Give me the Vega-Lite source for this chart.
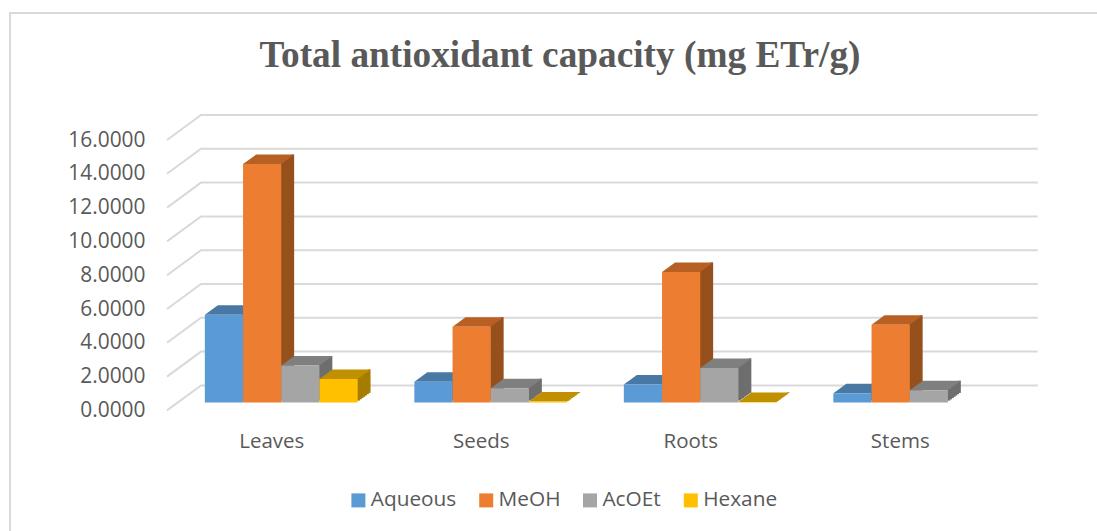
{"$schema":"https://vega.github.io/schema/vega-lite/v6.json","width":838,"height":270.4,"autosize":"none","padding":{"left":167,"top":140,"right":92,"bottom":120.6},"background":"white","config":{"view":{"stroke":null},"font":"Open Sans","axis":{"labelOverlap":false}},"title":{"text":"Total antioxidant capacity (mg ETr/g)","font":"Liberation Serif","fontSize":37.3,"fontWeight":"bold","color":"#595959","anchor":"middle","frame":"group","dx":-26,"offset":-63},"datasets":{"bars":[{"part":"Leaves","series":"Aqueous","v":5.18},{"part":"Leaves","series":"MeOH","v":14.1},{"part":"Leaves","series":"AcOEt","v":2.18},{"part":"Leaves","series":"Hexane","v":1.39},{"part":"Seeds","series":"Aqueous","v":1.22},{"part":"Seeds","series":"MeOH","v":4.48},{"part":"Seeds","series":"AcOEt","v":0.84},{"part":"Seeds","series":"Hexane","v":0.05},{"part":"Roots","series":"Aqueous","v":1.06},{"part":"Roots","series":"MeOH","v":7.72},{"part":"Roots","series":"AcOEt","v":2.04},{"part":"Roots","series":"Hexane","v":0.03},{"part":"Stems","series":"Aqueous","v":0.54},{"part":"Stems","series":"MeOH","v":4.59},{"part":"Stems","series":"AcOEt","v":0.72}],"grid":[{"g":0,"d":0,"h":0},{"g":0,"d":0.0406,"h":1.48},{"g":0,"d":1.039,"h":1.48},{"g":2,"d":0,"h":2},{"g":2,"d":0.0406,"h":3.48},{"g":2,"d":1.039,"h":3.48},{"g":4,"d":0,"h":4},{"g":4,"d":0.0406,"h":5.48},{"g":4,"d":1.039,"h":5.48},{"g":6,"d":0,"h":6},{"g":6,"d":0.0406,"h":7.48},{"g":6,"d":1.039,"h":7.48},{"g":8,"d":0,"h":8},{"g":8,"d":0.0406,"h":9.48},{"g":8,"d":1.039,"h":9.48},{"g":10,"d":0,"h":10},{"g":10,"d":0.0406,"h":11.48},{"g":10,"d":1.039,"h":11.48},{"g":12,"d":0,"h":12},{"g":12,"d":0.0406,"h":13.48},{"g":12,"d":1.039,"h":13.48},{"g":14,"d":0,"h":14},{"g":14,"d":0.0406,"h":15.48},{"g":14,"d":1.039,"h":15.48},{"g":16,"d":0,"h":16},{"g":16,"d":0.0406,"h":17.48},{"g":16,"d":1.039,"h":17.48}]},"resolve":{"scale":{"x":"independent"},"axis":{"x":"independent"}},"layer":[{"data":{"values":[{}]},"mark":{"type":"rect","fill":null,"stroke":"#D9D9D9","strokeWidth":2,"clip":false},"encoding":{"x":{"value":-157},"x2":{"value":1000},"y":{"value":-127},"y2":{"value":500}}},{"data":{"name":"grid"},"mark":{"type":"line","stroke":"#D9D9D9","strokeWidth":2,"interpolate":"linear","clip":false},"encoding":{"x":{"field":"d","type":"quantitative","scale":{"domain":[0,1],"nice":false,"zero":false},"axis":null},"y":{"field":"h","type":"quantitative","scale":{"domain":[0,16],"nice":false},"axis":{"title":null,"domain":false,"ticks":false,"grid":false,"values":[0,2,4,6,8,10,12,14,16],"format":".4f","labelFont":"Open Sans","labelFontSize":20.9,"labelColor":"#595959","labelPadding":22,"labelOverlap":false,"labelSeparation":0}},"detail":{"field":"g"}}},{"data":{"name":"bars"},"encoding":{"x":{"field":"part","type":"nominal","sort":["Leaves","Seeds","Roots","Stems"],"scale":{"paddingInner":0,"paddingOuter":0},"axis":{"title":null,"domain":false,"ticks":false,"labelAngle":0,"labelFont":"Open Sans","labelFontSize":20.5,"labelColor":"#595959","labelPadding":21}},"y":{"field":"v","type":"quantitative","stack":null,"scale":{"domain":[0,16],"nice":false},"axis":{"title":null,"domain":false,"ticks":false,"grid":false,"values":[0,2,4,6,8,10,12,14,16],"format":".4f","labelFont":"Open Sans","labelFontSize":20.9,"labelColor":"#595959","labelPadding":22,"labelOverlap":false,"labelSeparation":0}}},"resolve":{"scale":{"fill":"independent","xOffset":"independent"}},"layer":[{"encoding":{"y2":{"datum":0},"fill":{"field":"series","type":"nominal","legend":null,"scale":{"domain":["Aqueous","MeOH","AcOEt","Hexane"],"range":["#3F6A94","#96501C","#6E6E6E","#A67D00"]}}},"resolve":{"scale":{"xOffset":"independent"}},"layer":[{"mark":{"type":"bar","width":3,"yOffset":-9.83,"y2Offset":-9.83},"encoding":{"xOffset":{"field":"series","type":"nominal","scale":{"domain":["Aqueous","MeOH","AcOEt","Hexane"],"paddingInner":0,"paddingOuter":0.742,"range":[29.5,239]}}}},{"mark":{"type":"bar","width":3,"yOffset":-11.1,"y2Offset":-11.1},"encoding":{"xOffset":{"field":"series","type":"nominal","scale":{"domain":["Aqueous","MeOH","AcOEt","Hexane"],"paddingInner":0,"paddingOuter":0.742,"range":[31.25,240.75]}}}},{"mark":{"type":"bar","width":3,"yOffset":-12.38,"y2Offset":-12.38},"encoding":{"xOffset":{"field":"series","type":"nominal","scale":{"domain":["Aqueous","MeOH","AcOEt","Hexane"],"paddingInner":0,"paddingOuter":0.742,"range":[33,242.5]}}}},{"mark":{"type":"bar","width":3,"yOffset":-13.66,"y2Offset":-13.66},"encoding":{"xOffset":{"field":"series","type":"nominal","scale":{"domain":["Aqueous","MeOH","AcOEt","Hexane"],"paddingInner":0,"paddingOuter":0.742,"range":[34.75,244.25]}}}},{"mark":{"type":"bar","width":3,"yOffset":-14.94,"y2Offset":-14.94},"encoding":{"xOffset":{"field":"series","type":"nominal","scale":{"domain":["Aqueous","MeOH","AcOEt","Hexane"],"paddingInner":0,"paddingOuter":0.742,"range":[36.5,246]}}}},{"mark":{"type":"bar","width":3,"yOffset":-16.21,"y2Offset":-16.21},"encoding":{"xOffset":{"field":"series","type":"nominal","scale":{"domain":["Aqueous","MeOH","AcOEt","Hexane"],"paddingInner":0,"paddingOuter":0.742,"range":[38.25,247.75]}}}},{"mark":{"type":"bar","width":3,"yOffset":-17.5,"y2Offset":-17.5},"encoding":{"xOffset":{"field":"series","type":"nominal","scale":{"domain":["Aqueous","MeOH","AcOEt","Hexane"],"paddingInner":0,"paddingOuter":0.742,"range":[40,249.5]}}}}]},{"mark":{"type":"point","filled":true,"opacity":1,"size":1600,"strokeWidth":0,"shape":"M -0.955 0 L 0.955 0 L 1.605 -0.475 L -0.305 -0.475 Z","yOffset":-8},"encoding":{"xOffset":{"field":"series","type":"nominal","scale":{"type":"band","domain":["Aqueous","MeOH","AcOEt","Hexane"],"paddingInner":0,"paddingOuter":0.742,"range":[9.5,219]}},"fill":{"field":"series","type":"nominal","legend":null,"scale":{"domain":["Aqueous","MeOH","AcOEt","Hexane"],"range":["#4A78A4","#B85F24","#7F7F7F","#C09000"]}}}},{"mark":{"type":"bar","yOffset":-8,"y2Offset":-8},"encoding":{"y2":{"datum":0},"xOffset":{"field":"series","type":"nominal","scale":{"domain":["Aqueous","MeOH","AcOEt","Hexane"],"paddingInner":0,"paddingOuter":0.742,"range":[9.5,219]}},"color":{"field":"series","type":"nominal","scale":{"domain":["Aqueous","MeOH","AcOEt","Hexane"],"range":["#5B9BD5","#ED7D31","#A5A5A5","#FFC000"]},"legend":{"title":null,"orient":"none","legendX":181,"legendY":350,"direction":"horizontal","columns":4,"symbolType":"square","symbolSize":196,"symbolStrokeWidth":0,"labelFont":"Open Sans","labelFontSize":20.8,"labelColor":"#595959","labelOffset":2,"columnPadding":18.8,"gridAlign":"none","padding":0}}}}]}]}
